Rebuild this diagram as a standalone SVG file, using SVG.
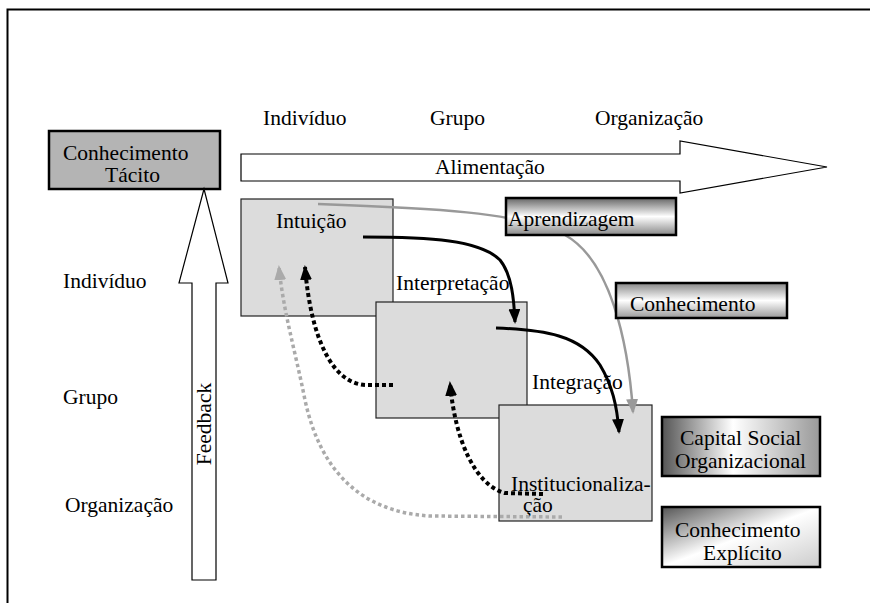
<svg xmlns="http://www.w3.org/2000/svg" width="870" height="603" viewBox="0 0 870 603">
<style>
text{font-family:"Liberation Serif","Times New Roman",serif;font-size:21.5px;fill:#000}
.stage{fill:#dcdcdc;stroke:#222;stroke-width:1.2}
.out{stroke:#000;stroke-width:2.5}
.bigarrow{fill:#fff;stroke:#000;stroke-width:1.2}
.blk{fill:none;stroke:#000;stroke-width:3}
.blkdot{fill:none;stroke:#000;stroke-width:4;stroke-dasharray:4 3}
.gry{fill:none;stroke:#999;stroke-width:2.5}
.grydot{fill:none;stroke:#aaa;stroke-width:3.5;stroke-dasharray:3.5 3}
</style>
<defs>
<marker id="mb" markerUnits="userSpaceOnUse" markerWidth="16" markerHeight="12" refX="13" refY="6" orient="auto">
<path d="M0,0 L15,6 L0,12 z" fill="#000"/>
</marker>
<marker id="mg" markerUnits="userSpaceOnUse" markerWidth="16" markerHeight="12" refX="13" refY="6" orient="auto">
<path d="M0,0 L15,6 L0,12 z" fill="#999"/>
</marker>
<marker id="mg2" markerUnits="userSpaceOnUse" markerWidth="16" markerHeight="12" refX="13" refY="6" orient="auto">
<path d="M0,0 L15,6 L0,12 z" fill="#aaa"/>
</marker>
<linearGradient id="gv" x1="0" y1="0" x2="0" y2="1">
<stop offset="0" stop-color="#666"/><stop offset="0.5" stop-color="#fff"/><stop offset="1" stop-color="#888"/>
</linearGradient>
<linearGradient id="gv2" x1="0" y1="0" x2="0" y2="1">
<stop offset="0" stop-color="#888"/><stop offset="0.5" stop-color="#fff"/><stop offset="1" stop-color="#999"/>
</linearGradient>
<linearGradient id="gh" x1="0" y1="0" x2="1" y2="0">
<stop offset="0" stop-color="#555"/><stop offset="0.45" stop-color="#fff"/><stop offset="1" stop-color="#999"/>
</linearGradient>
<linearGradient id="gd" x1="0" y1="0" x2="1" y2="1">
<stop offset="0" stop-color="#555"/><stop offset="0.5" stop-color="#fff"/><stop offset="1" stop-color="#ccc"/>
</linearGradient>
</defs>

<rect x="7.5" y="9.5" width="880" height="620" fill="none" stroke="#000" stroke-width="2"/>

<g id="headers">
<text x="263" y="125">Indivíduo</text>
<text x="430" y="125">Grupo</text>
<text x="595" y="125">Organização</text>
<text x="63" y="288">Indivíduo</text>
<text x="63" y="404">Grupo</text>
<text x="65" y="512">Organização</text>
</g>

<g id="tacito">
<rect x="49" y="131" width="171" height="58" fill="#b4b4b4" stroke="#000" stroke-width="2.5"/>
<text x="63" y="160">Conhecimento</text>
<text x="105" y="182">Tácito</text>
</g>

<g id="alimentacao">
<polygon class="bigarrow" points="241,154 680,154 680,141 827,167 680,193 680,181 241,181"/>
<text x="435" y="174">Alimentação</text>
</g>

<g id="feedback">
<polygon class="bigarrow" points="192,580 192,283 179,283 204,189 228,283 216,283 216,580"/>
<text transform="translate(211,424) rotate(-90)" text-anchor="middle">Feedback</text>
</g>

<g id="intuicao">
<rect class="stage" x="241" y="199" width="152" height="117"/>
<text x="276" y="228">Intuição</text>
</g>
<g id="interpretacao">
<rect class="stage" x="376" y="302" width="151" height="116"/>
<text x="396" y="290">Interpretação</text>
</g>
<g id="institucionalizacao">
<rect class="stage" x="499" y="405" width="153" height="116"/>
<text x="532" y="389">Integração</text>
<text x="511" y="491">Institucionaliza-</text>
<text x="523" y="512">ção</text>
</g>

<g id="connectors">
<path class="gry" d="M318,204 C430,208 520,212 565,235 C610,260 628,340 633,412" marker-end="url(#mg)"/>
<path class="blk" d="M363,237 C430,237 480,240 500,260 C512,275 514,300 515,322" marker-end="url(#mb)"/>
<path class="blk" d="M496,328 C545,330 580,335 600,365 C612,385 617,405 619,432" marker-end="url(#mb)"/>
<path class="blkdot" d="M393,385 L365,385 C333,383 311,340 305,267" marker-end="url(#mb)"/>
<path class="blkdot" d="M543,494 L505,493 C475,485 455,440 450,383" marker-end="url(#mb)"/>
<path class="grydot" d="M562,517 L430,516 C360,512 320,470 305,400 C295,350 283,310 279,267" marker-end="url(#mg2)"/>
</g>

<g id="aprendizagem">
<rect class="out" x="506" y="198" width="170" height="37" fill="url(#gv)"/>
<text x="508" y="226">Aprendizagem</text>
</g>
<g id="conhecimento">
<rect class="out" x="616" y="283" width="171" height="35" fill="url(#gv2)"/>
<text x="630" y="311">Conhecimento</text>
</g>
<g id="capital">
<rect class="out" x="662" y="417" width="158" height="59" fill="url(#gh)"/>
<text x="680" y="445">Capital Social</text>
<text x="675" y="468">Organizacional</text>
</g>
<g id="explicito">
<rect class="out" x="662" y="507" width="158" height="60" fill="url(#gd)"/>
<text x="675" y="537">Conhecimento</text>
<text x="703" y="560">Explícito</text>
</g>
</svg>
